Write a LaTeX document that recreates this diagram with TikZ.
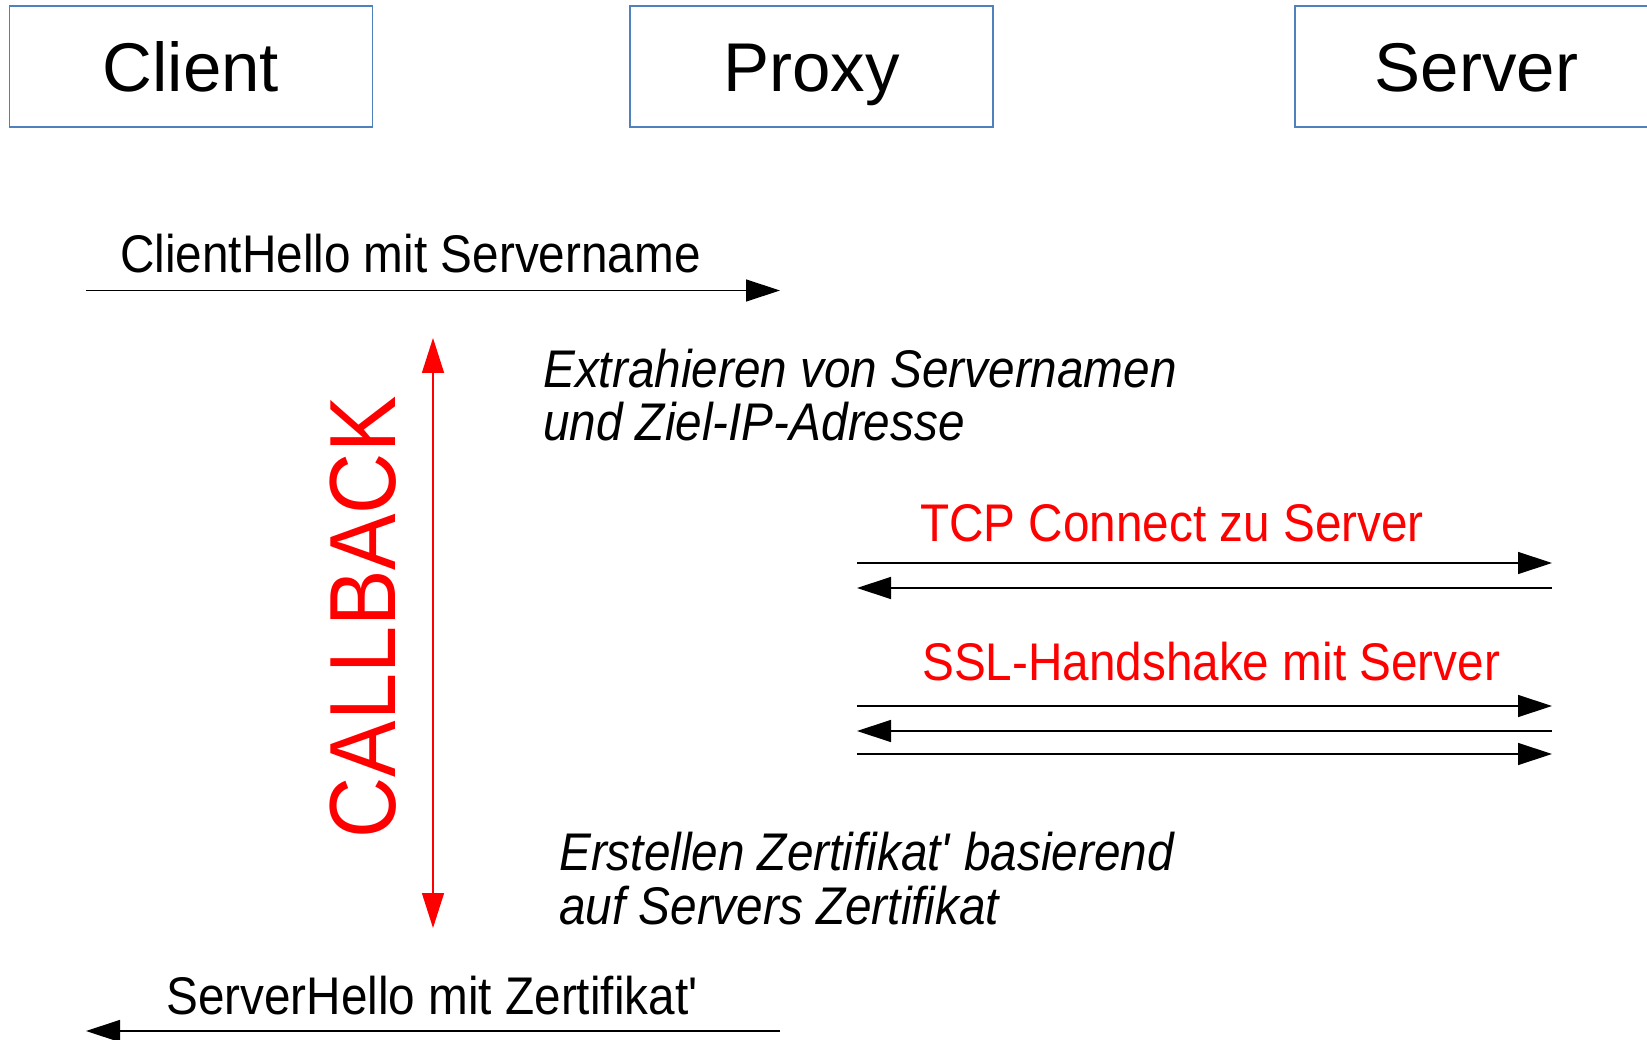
\documentclass[tikz,border=0pt]{standalone}
\usepackage{fontspec}
\setmainfont{Liberation Sans}
\newfontfamily\msgfont[FakeStretch=0.9]{Liberation Sans}
\usetikzlibrary{arrows.meta}
\definecolor{boxblue}{RGB}{79,129,189}
\begin{document}
\begin{tikzpicture}[x=1pt,y=-1pt,
  actor/.style={draw=boxblue,line width=1.5pt,minimum width=363pt,minimum height=121pt,inner sep=0pt,text height=50pt,text depth=0pt,font=\fontsize{69}{80}\selectfont},
  msg/.style={anchor=base west,inner sep=0pt,font=\msgfont\fontsize{53}{54}\selectfont},
  note/.style={msg,font=\msgfont\itshape\fontsize{53}{54}\selectfont,align=left},
  redmsg/.style={msg,text=red},
  arr/.style={line width=1.3pt,-{Triangle[length=34pt,width=22pt]}},
  cbarr/.style={line width=1.5pt,red,{Triangle[length=35pt,width=22pt]}-{Triangle[length=35pt,width=22pt]}},
  ]
\useasboundingbox (0,0) rectangle (1647,1040);
% actors
\node[actor] (client) at (191,66.7) {Client};
\node[actor] (proxy) at (811.5,66.7) {Proxy};
\node[actor] (server) at (1476.5,66.7) {Server};
% ClientHello
\coordinate (ch1) at (86,290.5);
\coordinate (ch2) at (780,290.5);
\draw[arr] (ch1) -- (ch2);
\node[msg] (chl) at (120,273) {ClientHello mit Servername};
% callback
\coordinate (cbT) at (433,338);
\coordinate (cbB) at (433,928);
\draw[cbarr] (cbT) -- (cbB);
\node[rotate=90,anchor=base,inner sep=0pt,text=red,font=\msgfont\fontsize{94}{100}\selectfont] (cb) at (395,617.5) {CALLBACK};
% extract note (anchored at baseline of its last line)
\node[note] (ex) at (543,441) {Extrahieren von Servernamen\\und Ziel-IP-Adresse};
% TCP
\node[redmsg] (tcp) at (920,541) {TCP Connect zu Server};
\coordinate (t1a) at (857,563);
\coordinate (t1b) at (1552,563);
\coordinate (t2a) at (1552,588);
\coordinate (t2b) at (857,588);
\draw[arr] (t1a) -- (t1b);
\draw[arr] (t2a) -- (t2b);
% SSL
\node[redmsg] (ssl) at (922,680) {SSL-Handshake mit Server};
\coordinate (s1a) at (857,706);
\coordinate (s1b) at (1552,706);
\coordinate (s2a) at (1552,731);
\coordinate (s2b) at (857,731);
\coordinate (s3a) at (857,754);
\coordinate (s3b) at (1552,754);
\draw[arr] (s1a) -- (s1b);
\draw[arr] (s2a) -- (s2b);
\draw[arr] (s3a) -- (s3b);
% certificate note (anchored at baseline of its last line)
\node[note] (er) at (559,924) {Erstellen Zertifikat\textquotesingle{} basierend\\auf Servers Zertifikat};
% ServerHello
\node[msg] (shl) at (166,1014) {ServerHello mit Zertifikat\textquotesingle};
\coordinate (sh1) at (780,1031);
\coordinate (sh2) at (86,1031);
\draw[arr] (sh1) -- (sh2);
\end{tikzpicture}
\end{document}
